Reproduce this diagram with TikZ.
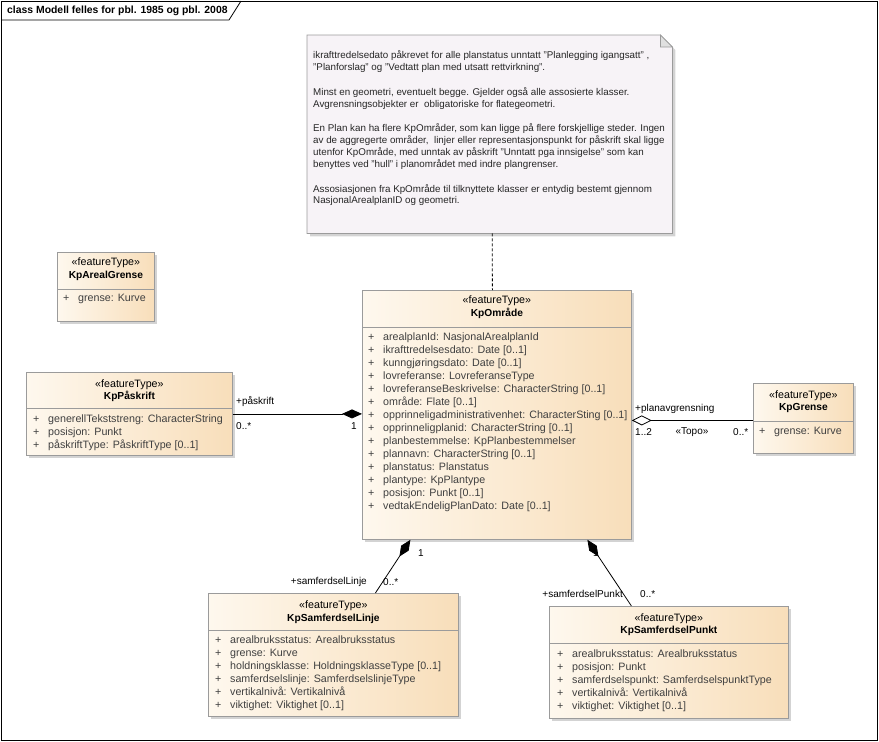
\documentclass[tikz,border=0pt]{standalone}
\usepackage{fontspec}
\setmainfont{Liberation Sans}
\usetikzlibrary{arrows.meta,shadows}

\definecolor{clsleft}{RGB}{254,248,238}
\definecolor{clsright}{RGB}{248,222,186}
\definecolor{clsline}{RGB}{155,155,155}
\definecolor{notefill}{RGB}{247,243,247}
\definecolor{attrtext}{RGB}{64,64,64}

\newcommand{\clsname}[1]{{\fontsize{10.2}{12.5}\selectfont\bfseries #1}}

\tikzset{
  cls/.style={draw=clsline, line width=0.8pt, left color=clsleft, right color=clsright,
    anchor=north west, inner sep=0pt,
    drop shadow={shadow xshift=3pt, shadow yshift=-3pt, opacity=0.35}},
  hdr/.style={font=\fontsize{10.7}{12.5}\selectfont, align=center, inner sep=0pt},
  attr/.style={font=\fontsize{10.7}{13}\selectfont, anchor=north west, inner sep=0pt, text=attrtext},
  sepline/.style={draw=clsline, line width=0.8pt},
  notebox/.style={draw=clsline, line width=0.8pt, fill=notefill,
    drop shadow={shadow xshift=3pt, shadow yshift=-3pt, opacity=0.35}},
  notetext/.style={font=\fontsize{9.8}{11.8}\selectfont, align=left, anchor=north west, inner sep=0pt, text=black!85},
  role/.style={font=\fontsize{10}{12}\selectfont, inner sep=0pt},
  assoc/.style={line width=0.8pt},
  comp/.style={assoc, -{Diamond[length=20pt,width=9pt]}},
  aggr/.style={assoc, -{Diamond[length=20pt,width=10pt,fill=white]}},
}

\begin{document}
\begin{tikzpicture}[x=1pt,y=-1pt]
  \useasboundingbox (0,0) rectangle (879,742);
  % frame and title tab
  \draw[line width=0.8pt] (1,1) rectangle (877,740);
  \draw[line width=0.8pt] (1,20) -- (229,20) -- (241,1);
  \node[anchor=west, inner sep=0pt, font=\fontsize{10.4}{12}\selectfont\bfseries] (title) at (7,11)
    {class Modell felles for pbl. 1985 og pbl. 2008};

  % note
  \node[anchor=north west, inner sep=0pt, minimum width=365pt, minimum height=198pt] (note) at (307,35) {};
  \draw[notebox] (note.north west) -- ([xshift=-12]note.north east) -- ([yshift=-12]note.north east)
    -- (note.south east) -- (note.south west) -- cycle;
  \draw[draw=clsline, line width=0.8pt, fill=black!12] ([xshift=-12]note.north east)
    -- ([xshift=-12,yshift=-12]note.north east) -- ([yshift=-12]note.north east) -- cycle;
  \node[notetext] (note-t) at ([xshift=6,yshift=-15.5]note.north west) {%
    ikrafttredelsedato påkrevet for alle planstatus unntatt "Planlegging igangsatt" ,\\
    "Planforslag" og "Vedtatt plan med utsatt rettvirkning".\\[13pt]
    Minst en geometri, eventuelt begge. Gjelder også alle assosierte klasser.\\
    Avgrensningsobjekter er\ \ obligatoriske for flategeometri.\\[13pt]
    En Plan kan ha flere KpOmråder, som kan ligge på flere forskjellige steder. Ingen\\
    av de aggregerte områder,\ \ linjer eller representasjonspunkt for påskrift skal ligge\\
    utenfor KpOmråde, med unntak av påskrift "Unntatt pga innsigelse" som kan\\
    benyttes ved "hull" i planområdet med indre plangrenser.\\[13pt]
    Assosiasjonen fra KpOmråde til tilknyttete klasser er entydig bestemt gjennom\\
    NasjonalArealplanID og geometri.};

  % KpArealGrense
  \node[cls, minimum width=97pt, minimum height=69pt] (are) at (57,252) {};
  \node[hdr] (are-h) at ([yshift=-17]are.north) {«featureType»\\\clsname{KpArealGrense}};
  \draw[sepline] ([yshift=-37]are.north west) -- ([yshift=-37]are.north east);
  \node[attr] (are-a) at ([xshift=6,yshift=-40.5]are.north west) {\begin{tabular}{@{}p{15pt}@{}l@{}}
    + & grense: Kurve\\
  \end{tabular}};

  % KpPåskrift
  \node[cls, minimum width=206pt, minimum height=83pt] (pask) at (26,372) {};
  \node[hdr] (pask-h) at ([yshift=-18.5]pask.north) {«featureType»\\\clsname{KpPåskrift}};
  \draw[sepline] ([yshift=-36]pask.north west) -- ([yshift=-36]pask.north east);
  \node[attr] (pask-a) at ([xshift=7,yshift=-41.5]pask.north west) {\begin{tabular}{@{}p{15pt}@{}l@{}}
    + & generellTekststreng: CharacterString\\
    + & posisjon: Punkt\\
    + & påskriftType: PåskriftType [0..1]\\
  \end{tabular}};

  % KpOmråde
  \node[cls, minimum width=269pt, minimum height=249pt] (omr) at (362,290) {};
  \node[hdr] (omr-h) at ([yshift=-17]omr.north) {«featureType»\\\clsname{KpOmråde}};
  \draw[sepline] ([yshift=-37]omr.north west) -- ([yshift=-37]omr.north east);
  \node[attr] (omr-a) at ([xshift=6,yshift=-41.5]omr.north west) {\begin{tabular}{@{}p{15pt}@{}l@{}}
    + & arealplanId: NasjonalArealplanId\\
    + & ikrafttredelsesdato: Date [0..1]\\
    + & kunngjøringsdato: Date [0..1]\\
    + & lovreferanse: LovreferanseType\\
    + & lovreferanseBeskrivelse: CharacterString [0..1]\\
    + & område: Flate [0..1]\\
    + & opprinneligadministrativenhet: CharacterSting [0..1]\\
    + & opprinneligplanid: CharacterString [0..1]\\
    + & planbestemmelse: KpPlanbestemmelser\\
    + & plannavn: CharacterString [0..1]\\
    + & planstatus: Planstatus\\
    + & plantype: KpPlantype\\
    + & posisjon: Punkt [0..1]\\
    + & vedtakEndeligPlanDato: Date [0..1]\\
  \end{tabular}};

  % KpGrense
  \node[cls, minimum width=100pt, minimum height=70pt] (gr) at (753,383) {};
  \node[hdr] (gr-h) at ([yshift=-18.5]gr.north) {«featureType»\\\clsname{KpGrense}};
  \draw[sepline] ([yshift=-38]gr.north west) -- ([yshift=-38]gr.north east);
  \node[attr] (gr-a) at ([xshift=6,yshift=-42.5]gr.north west) {\begin{tabular}{@{}p{15pt}@{}l@{}}
    + & grense: Kurve\\
  \end{tabular}};

  % KpSamferdselLinje
  \node[cls, minimum width=250pt, minimum height=123pt] (lin) at (208,593) {};
  \node[hdr] (lin-h) at ([yshift=-19]lin.north) {«featureType»\\\clsname{KpSamferdselLinje}};
  \draw[sepline] ([yshift=-37]lin.north west) -- ([yshift=-37]lin.north east);
  \node[attr] (lin-a) at ([xshift=7,yshift=-41.5]lin.north west) {\begin{tabular}{@{}p{15pt}@{}l@{}}
    + & arealbruksstatus: Arealbruksstatus\\
    + & grense: Kurve\\
    + & holdningsklasse: HoldningsklasseType [0..1]\\
    + & samferdselslinje: SamferdselslinjeType\\
    + & vertikalnivå: Vertikalnivå\\
    + & viktighet: Viktighet [0..1]\\
  \end{tabular}};

  % KpSamferdselPunkt
  \node[cls, minimum width=239pt, minimum height=112pt] (pkt) at (549,606) {};
  \node[hdr] (pkt-h) at ([yshift=-18.5]pkt.north) {«featureType»\\\clsname{KpSamferdselPunkt}};
  \draw[sepline] ([yshift=-37]pkt.north west) -- ([yshift=-37]pkt.north east);
  \node[attr] (pkt-a) at ([xshift=8,yshift=-42.5]pkt.north west) {\begin{tabular}{@{}p{15pt}@{}l@{}}
    + & arealbruksstatus: Arealbruksstatus\\
    + & posisjon: Punkt\\
    + & samferdselspunkt: SamferdselspunktType\\
    + & vertikalnivå: Vertikalnivå\\
    + & viktighet: Viktighet [0..1]\\
  \end{tabular}};

  % note link
  \draw[line width=0.8pt, dash pattern=on 3pt off 2pt] ([xshift=2.5]note.south) -- ([xshift=-4.5]omr.north);

  % associations
  \coordinate (gr-in) at ([yshift=-2]gr.west);
  \coordinate (lin-in) at ([xshift=42]lin.north);
  \coordinate (omr-lin) at ([xshift=-86.5]omr.south);
  \coordinate (pkt-in) at ([xshift=-37.5]pkt.north);
  \coordinate (omr-pkt) at ([xshift=90.5]omr.south);
  \draw[comp] (pask.east) -- (omr.west |- pask.east);
  \draw[aggr] (gr-in) -- (omr.east |- gr-in);
  \draw[comp] (lin-in) -- (omr-lin);
  \draw[comp] (pkt-in) -- (omr-pkt);

  % role names and multiplicities
  \node[role, anchor=west] (pask-r) at (236,402) {+påskrift};
  \node[role, anchor=west] (pask-m) at (236,426) {0..*};
  \node[role] (omr-m1) at (354,426) {1};
  \node[role, anchor=west] (gr-r) at (635,409) {+planavgrensning};
  \node[role, anchor=west] (omr-m2) at (635,432) {1..2};
  \node[role] (gr-s) at (692,432) {«Topo»};
  \node[role, anchor=west] (gr-m) at (733,432) {0..*};
  \node[role, anchor=east] (lin-r) at (367,582) {+samferdselLinje};
  \node[role, anchor=west] (lin-m) at (383,582) {0..*};
  \node[role] (omr-m3) at (421,553) {1};
  \node[role, anchor=east] (pkt-r) at (623,594) {+samferdselPunkt};
  \node[role, anchor=west] (pkt-m) at (640,594) {0..*};
  \node[role] (omr-m4) at (596,553) {1};
\end{tikzpicture}
\end{document}
